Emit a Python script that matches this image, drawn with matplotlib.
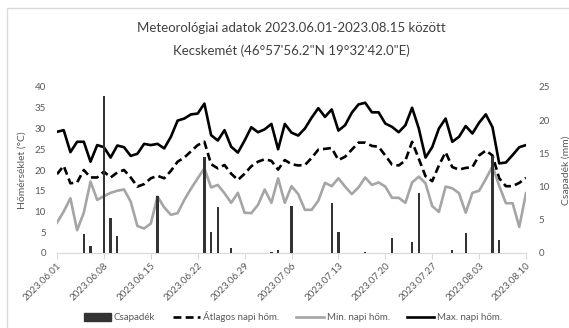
import matplotlib
matplotlib.use('Agg')
import matplotlib.pyplot as plt
import matplotlib.patches as mpatches
import matplotlib.dates as mdates
import pandas as pd

plt.rcParams['font.family'] = ['Lato', 'DejaVu Sans']

# Napi adatok 2023.06.01 - 2023.08.10
napok = pd.date_range('2023-06-01', '2023-08-10', freq='D')

max_hom = [29.2, 29.6, 24.3, 26.8, 26.8, 22.0, 26.0, 25.5, 23.0, 25.9,
           25.5, 23.4, 23.9, 26.3, 26.0, 26.3, 25.2, 28.0, 31.9, 32.4,
           33.4, 33.6, 36.0, 28.4, 27.1, 29.6, 25.6, 24.2, 27.1, 30.3,
           29.1, 29.8, 31.1, 25.0, 31.1, 29.0, 28.3, 30.0, 32.6, 34.9,
           32.8, 34.6, 29.5, 30.8, 33.8, 35.8, 36.2, 33.9, 33.9, 31.2,
           30.4, 29.1, 30.8, 35.0, 30.0, 23.0, 25.5, 30.0, 32.4, 26.8,
           28.0, 30.6, 28.8, 31.4, 33.4, 30.3, 21.6, 21.8, 23.6, 25.5,
           26.0]

atlag_hom = [19.0, 21.0, 16.8, 17.0, 20.0, 18.2, 18.2, 19.6, 18.2, 19.4,
             20.0, 18.2, 16.0, 16.6, 18.0, 18.6, 18.0, 19.8, 22.0, 23.0,
             24.5, 26.0, 26.8, 21.4, 20.4, 21.2, 19.1, 17.6, 19.1, 20.9,
             22.0, 22.6, 22.2, 20.1, 22.4, 21.4, 21.1, 21.2, 22.9, 24.9,
             25.1, 25.3, 22.4, 23.2, 24.9, 26.6, 26.6, 25.8, 25.6, 23.5,
             21.3, 21.1, 22.3, 26.8, 22.7, 18.5, 17.3, 21.1, 24.3, 20.7,
             20.1, 20.5, 20.7, 23.5, 24.7, 23.5, 18.0, 16.1, 16.1, 16.9,
             18.1]

min_hom = [7.3, 10.0, 13.2, 5.5, 9.7, 17.2, 12.8, 13.7, 14.5, 15.0,
           15.3, 12.4, 6.5, 5.9, 7.1, 13.6, 11.0, 9.2, 9.6, 12.8,
           15.5, 18.0, 20.4, 15.8, 16.4, 14.4, 12.1, 14.5, 9.7, 9.6,
           11.6, 15.3, 12.1, 18.0, 12.1, 16.1, 14.2, 10.4, 10.4, 12.6,
           16.9, 16.1, 18.0, 16.0, 14.2, 15.8, 18.2, 16.4, 17.0, 16.0,
           13.3, 13.3, 12.1, 17.0, 18.4, 16.8, 11.3, 9.9, 16.0, 15.6,
           14.4, 9.7, 14.5, 15.0, 17.8, 20.9, 16.2, 12.0, 12.0, 6.3,
           14.4]

csapadek = [0, 0, 0, 0, 2.8, 1.1, 0, 23.7, 5.3, 2.5,
            0, 0, 0, 0, 0, 8.6, 0, 0, 0, 0,
            0, 0, 14.4, 3.1, 7.0, 0, 0.7, 0, 0, 0,
            0, 0, 0.1, 0.45, 0, 7.1, 0, 0, 0, 0,
            0, 7.6, 3.1, 0, 0, 0, 0.2, 0, 0, 0,
            2.3, 0, 0, 1.6, 9.1, 0, 0, 0, 0, 0.4,
            0, 3.0, 0, 0, 0, 14.6, 1.9, 0, 0, 0,
            0]

szurke = '#595959'

fig = plt.figure(figsize=(5.69, 3.28), dpi=100)
ax = fig.add_axes([57 / 569, 1 - 253 / 328, (526 - 57) / 569, (253 - 87) / 328])
ax2 = ax.twinx()

ax.plot(napok, max_hom, color='black', lw=1.9, label='Max. napi hőm.')
ax.plot(napok, atlag_hom, color='black', lw=1.9, ls=(0, (3, 1.6)), label='Átlagos napi hőm.')
ax.plot(napok, min_hom, color='#a5a5a5', lw=1.9, label='Min. napi hőm.')
ax2.bar(napok, csapadek, width=0.33, color='#333333', label='Csapadék')

ax.set_xlim(napok[0], napok[-1])
ax.set_ylim(0, 40)
ax2.set_ylim(0, 25)
ax.set_yticks(range(0, 41, 5))
ax2.set_yticks(range(0, 26, 5))

ax.set_xticks(napok[::7])
ax.xaxis.set_major_formatter(mdates.DateFormatter('%Y.%m.%d'))
for lbl in ax.get_xticklabels():
    lbl.set_rotation(45)
    lbl.set_ha('right')
    lbl.set_rotation_mode('anchor')

for a in (ax, ax2):
    for s in a.spines.values():
        s.set_visible(False)
    a.tick_params(labelsize=7, colors=szurke, length=0)
ax.spines['bottom'].set_visible(True)
ax.spines['bottom'].set_color('#d9d9d9')
ax.tick_params(axis='x', length=4, color='#d9d9d9', pad=2)
ax.tick_params(axis='y', pad=8)
ax2.tick_params(axis='y', pad=9)

ax.set_ylabel('Hőmérséklet (°C)', fontsize=7.5, color=szurke, labelpad=6)
ax2.set_ylabel('Csapadék (mm)', fontsize=7.5, color=szurke, labelpad=8)

fig.text(291 / 569, 1 - 28 / 328, 'Meteorológiai adatok 2023.06.01-2023.08.15 között',
         ha='center', va='center', fontsize=9.5, color='#404040')
fig.text(291 / 569, 1 - 51 / 328, 'Kecskemét (46°57\'56.2"N 19°32\'42.0"E)',
         ha='center', va='center', fontsize=9.5, color='#404040')

kezelok = [mpatches.Patch(color='#333333', label='Csapadék'),
           plt.Line2D([], [], color='black', lw=1.9, ls=(0, (3, 1.6)), label='Átlagos napi hőm.'),
           plt.Line2D([], [], color='#a5a5a5', lw=1.9, label='Min. napi hőm.'),
           plt.Line2D([], [], color='black', lw=1.9, label='Max. napi hőm.')]
fig.legend(handles=kezelok, loc='center', bbox_to_anchor=(293 / 569, 1 - 317 / 328),
           ncol=4, frameon=False, fontsize=7, labelcolor=szurke,
           handlelength=2.8, handleheight=0.8, handletextpad=0.3, columnspacing=1.8)

# keret
fig.patches.append(mpatches.Rectangle((7 / 569, -0.1), 1.1, 1 - 8 / 328 + 0.1,
                                      transform=fig.transFigure, fill=False,
                                      edgecolor='#d9d9d9', lw=1))

fig.savefig('out.png', dpi=100)
